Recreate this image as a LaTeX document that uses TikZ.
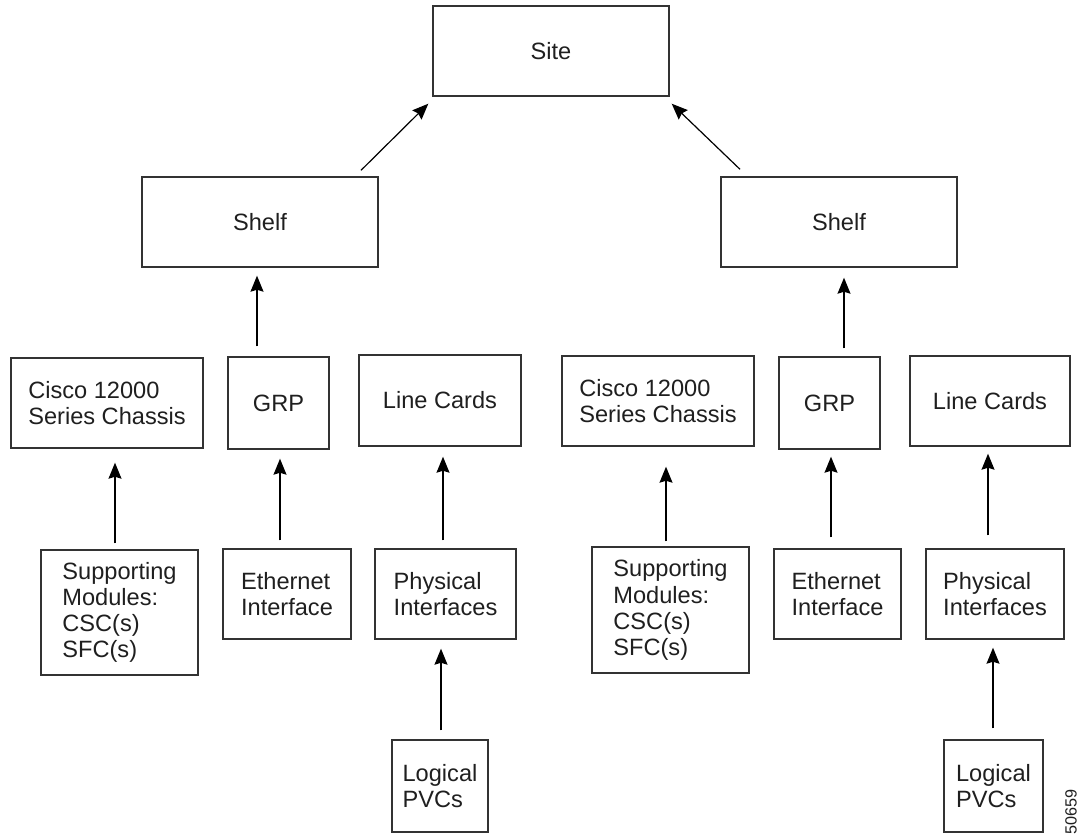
\documentclass[tikz,border=0pt]{standalone}
\usepackage{fontspec}
\setmainfont{Liberation Sans}
\usetikzlibrary{arrows.meta}
\tikzset{
  box/.style={draw=black!80, line width=0.7pt, inner sep=0pt, align=left,
    text=black!88, font=\fontsize{11.8}{13.1}\selectfont},
  arr/.style={-{Stealth[length=8pt,width=6.5pt,inset=1pt]}, line width=0.6pt, draw=black},
  tag/.style={font=\fontsize{8.1}{9}\selectfont, text=black!88, inner sep=0pt}
}
\begin{document}
\begin{tikzpicture}[x=0.5pt,y=-0.5pt]
\useasboundingbox (0,0) rectangle (1080,837);
% top levels
\node[box, minimum width=118pt, minimum height=45pt] (site) at (551,51) {Site};
\node[box, minimum width=118pt, minimum height=45pt] (shelfL) at (260,222) {\raisebox{-1.5pt}{Shelf}};
\node[box, minimum width=118pt, minimum height=45pt] (shelfR) at (839,222) {\raisebox{-2pt}{Shelf}};
% left group
\node[box, minimum width=96pt, minimum height=45pt] (chasL) at (107,403) {Cisco 12000\\Series Chassis};
\node[box, minimum width=50.5pt, minimum height=46pt] (grpL) at (278.5,403) {GRP};
\node[box, minimum width=81pt, minimum height=45.5pt] (lcL) at (440,400.5) {Line Cards};
\node[box, minimum width=78.5pt, minimum height=62.5pt] (supL) at (119.5,612.5) {Supporting\\Modules:\\CSC(s)\\SFC(s)};
\node[box, minimum width=64pt, minimum height=45pt] (ethL) at (287,594) {Ethernet\\Interface};
\node[box, minimum width=70.5pt, minimum height=45pt] (phyL) at (445.5,594) {Physical\\Interfaces};
\node[box, minimum width=48pt, minimum height=46pt] (logL) at (440,786) {Logical\\PVCs};
% right group
\node[box, minimum width=96pt, minimum height=45pt] (chasR) at (658,401) {Cisco 12000\\Series Chassis};
\node[box, minimum width=50.5pt, minimum height=46pt] (grpR) at (829.5,403) {GRP};
\node[box, minimum width=80pt, minimum height=45pt] (lcR) at (990,401) {Line Cards};
\node[box, minimum width=78.5pt, minimum height=63pt] (supR) at (670.5,610) {Supporting\\Modules:\\CSC(s)\\SFC(s)};
\node[box, minimum width=63.5pt, minimum height=45pt] (ethR) at (837.5,594) {Ethernet\\Interface};
\node[box, minimum width=69pt, minimum height=45pt] (phyR) at (995,594) {Physical\\Interfaces};
\node[box, minimum width=49.5pt, minimum height=46pt] (logR) at (993.5,786) {Logical\\PVCs};
% figure number
\node[tag, rotate=90, anchor=east] (fig) at (1071,789) {50659};
% arrows: shelves to site
\draw[arr] ([xshift=50.5pt,yshift=3pt]shelfL.north) -- ([xshift=-2pt,yshift=-3.5pt]site.south west);
\draw[arr] ([xshift=-49.5pt,yshift=3.5pt]shelfR.north) -- ([xshift=1pt,yshift=-3.5pt]site.south east);
% GRP to shelves
\draw[arr, shorten <=5pt, shorten >=4pt] ([xshift=-10.75pt]grpL.north) -- ([xshift=-1.5pt]shelfL.south);
\draw[arr, shorten <=4pt, shorten >=5pt] ([xshift=7.25pt]grpR.north) -- ([xshift=2.5pt]shelfR.south);
% left lower arrows
\draw[arr, shorten <=3pt, shorten >=7pt] ([xshift=-2.25pt]supL.north) -- ([xshift=4pt]chasL.south);
\draw[arr, shorten <=4pt, shorten >=4.5pt] ([xshift=-3.5pt]ethL.north) -- ([xshift=0.75pt]grpL.south);
\draw[arr, shorten <=4pt, shorten >=5pt] ([xshift=-1.25pt]phyL.north) -- ([xshift=1.5pt]lcL.south);
\draw[arr, shorten <=4.5pt, shorten >=4.5pt] ([xshift=0.5pt]logL.north) -- ([xshift=-2.25pt]phyL.south);
% right lower arrows
\draw[arr, shorten <=2.5pt, shorten >=10pt] ([xshift=-2.25pt]supR.north) -- ([xshift=4pt]chasR.south);
\draw[arr, shorten <=5.5pt, shorten >=3.5pt] ([xshift=-3.25pt]ethR.north) -- ([xshift=0.75pt]grpR.south);
\draw[arr, shorten <=6.5pt, shorten >=3.5pt] ([xshift=-3.5pt]phyR.north) -- ([xshift=-1pt]lcR.south);
\draw[arr, shorten <=5.5pt, shorten >=4pt] ([xshift=-0.25pt]logR.north) -- ([xshift=-1pt]phyR.south);
\end{tikzpicture}
\end{document}
